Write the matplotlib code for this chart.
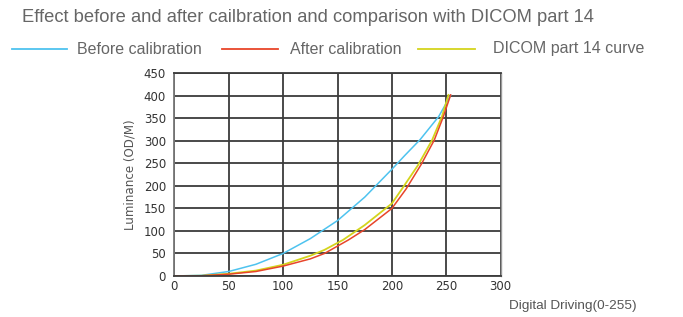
import matplotlib
matplotlib.use("Agg")
import matplotlib.pyplot as plt
from matplotlib.lines import Line2D

# Data
before_x = [0, 25, 50, 75, 100, 125, 150, 175, 200, 212, 226, 243, 254]
before_y = [0, 1.5, 10, 26, 50, 83, 123, 175, 237, 268, 303, 354, 401]

after_x = [0, 25, 50, 75, 100, 125, 138, 160, 175, 200, 213, 227, 239, 247, 254]
after_y = [0, 0.5, 4, 10, 22, 38, 50, 80, 103, 150, 193, 248, 302, 352, 402]

dicom_x = [0, 25, 50, 75, 100, 125, 138, 155, 175, 200, 210, 224, 237, 246, 252]
dicom_y = [0, 0.6, 5, 12, 25, 45, 58, 80, 113, 161, 196, 246, 302, 354, 402]

xticks = [0, 50, 100, 150, 200, 250, 300]
yticks = [0, 50, 100, 150, 200, 250, 300, 350, 400, 450]

title = "Effect before and after cailbration and comparison with DICOM part 14"
series_labels = ["Before calibration", "After calibration", "DICOM part 14 curve"]
colors = ["#4ec3ef", "#e8452a", "#d4d41c"]

fig = plt.figure(figsize=(6.83, 3.17), dpi=100)
ax = fig.add_axes([174.3 / 683, 41 / 317, (500.7 - 174.3) / 683, (276 - 73.3) / 317])

ax.plot(before_x, before_y, color=colors[0], lw=1.1)
ax.plot(dicom_x, dicom_y, color=colors[2], lw=1.3)
ax.plot(after_x, after_y, color=colors[1], lw=1.1)

ax.set_xlim(0, 300)
ax.set_ylim(0, 450)
ax.set_xticks(xticks)
ax.set_yticks(yticks)
ax.grid(True, color="#3c3c3c", lw=1.3)
ax.set_axisbelow(True)
for s in ["bottom", "top"]:
    ax.spines[s].set_color("#3c3c3c")
    ax.spines[s].set_linewidth(1.3)
ax.spines["left"].set_color("#777777")
ax.spines["left"].set_linewidth(1.3)
ax.spines["right"].set_color("#9a9a9a")
ax.spines["right"].set_linewidth(1.0)
ax.tick_params(length=0, labelsize=8.5, labelcolor="#333333", pad=6)
ax.tick_params(axis="x", pad=3)
for lab in ax.get_xticklabels() + ax.get_yticklabels():
    lab.set_fontfamily("DejaVu Sans")
ax.set_ylabel("Luminance (OD/M)", fontsize=8.6, color="#555555", labelpad=5)

fig.text(22 / 683, 1 - 18 / 317, title, fontsize=13.2, color="#666666",
         family="Liberation Sans", va="center", ha="left")

# legend drawn manually to match positions
ly = 1 - 49 / 317
leg = [(12, 67, 77), (222, 278, 290), (418, 475, 493)]
for (x0, x1, tx), c, lab in zip(leg, colors, series_labels):
    fig.add_artist(Line2D([x0 / 683, x1 / 683], [ly, ly], color=c, lw=1.3,
                          transform=fig.transFigure))
    fig.text(tx / 683, ly, lab, fontsize=11.5, color="#666666",
             family="Liberation Sans", va="center", ha="left")

fig.text(572.5 / 683, 1 - 306 / 317, "Digital Driving(0-255)", fontsize=9.7,
         color="#555555", family="Liberation Sans", ha="center", va="center")

fig.savefig("out.png", dpi=100, facecolor="white")
